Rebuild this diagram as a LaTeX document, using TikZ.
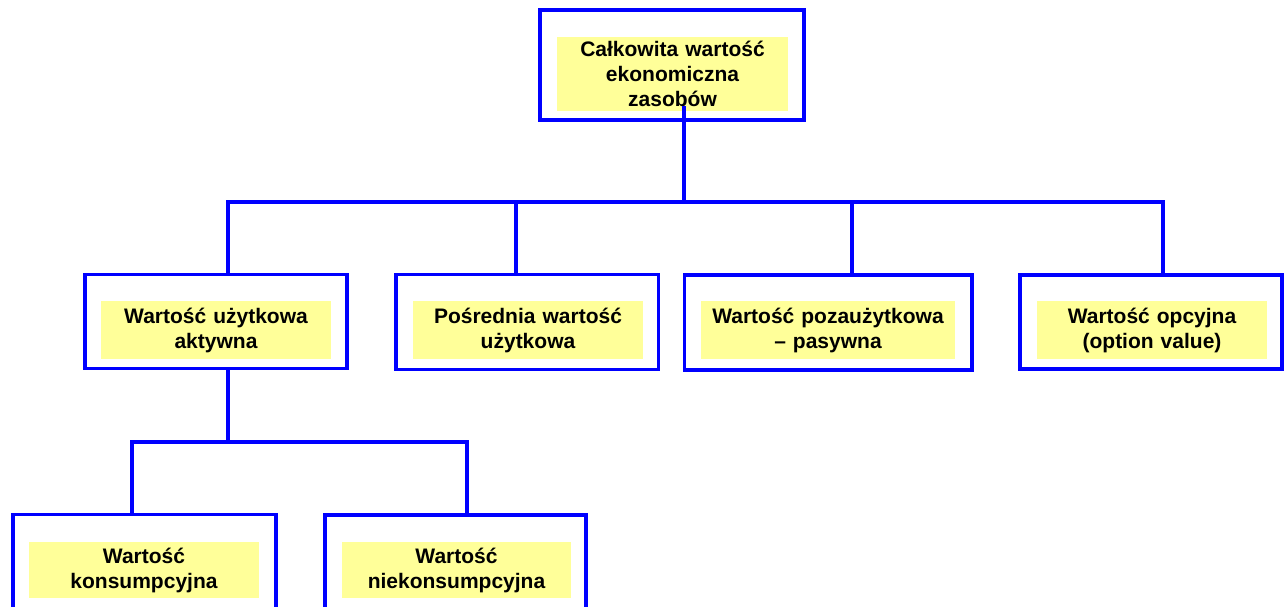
\documentclass[tikz,border=0pt]{standalone}
\usepackage{fontspec}
\setmainfont{Liberation Sans}
\definecolor{boxblue}{RGB}{0,0,255}
\definecolor{labyellow}{RGB}{255,255,153}

\begin{document}
\begin{tikzpicture}[x=1pt,y=-1pt,
    valbox/.style={draw=boxblue,line width=3.5pt,inner sep=0pt},
    vallab/.style={fill=labyellow,inner sep=0pt,align=center,
      font=\fontsize{21}{25}\selectfont\bfseries},
    conn/.style={draw=boxblue,line width=3.5pt}]
  \useasboundingbox (0,0) rectangle (1286,606);
  \clip (0,0) rectangle (1286,606);
  % yellow labels
  \foreach \nm/\cx/\cy/\w/\h/\txt in {
      tev-t/672.5/74/231/74/{Całkowita wartość\\ekonomiczna\\zasobów},
      use-t/216/330/230/58/{Wartość użytkowa\\aktywna},
      ind-t/528/330/230/58/{Pośrednia wartość\\użytkowa},
      nonuse-t/828/330/254/58/{Wartość pozaużytkowa\\– pasywna},
      opt-t/1152/330/230/58/{Wartość opcyjna\\(option value)},
      cons-t/144/570/230/56/{Wartość\\konsumpcyjna},
      ncons-t/456.5/570/229/56/{Wartość\\niekonsumpcyjna}} {
    \node[vallab,text width=\w pt,minimum height=\h pt] (\nm) at (\cx,\cy) {\txt};
  }
  % frames
  \foreach \nm/\cx/\cy/\w/\h in {tev/672/65/264/110, use/216/321.5/262/94,
      ind/527/322/262.5/95, nonuse/828/322.5/287.5/95, opt/1151/322/262/94,
      cons/144.5/561.5/263/94, ncons/455.5/562/261/94} {
    \node[valbox,minimum width=\w pt,minimum height=\h pt] (\nm) at (\cx,\cy) {};
  }
  % junctions
  \coordinate (j-stem) at (684,106);
  \coordinate (j-top) at (684,202);
  \coordinate (j-use) at (228,202);
  \coordinate (j-ind) at (516,202);
  \coordinate (j-non) at (852,202);
  \coordinate (j-opt) at (1163,202);
  \coordinate (j-low) at (228,442);
  \coordinate (j-cons) at (132,442);
  \coordinate (j-ncons) at (467,442);
  % connectors
  \draw[conn] (j-stem) -- (j-top);
  \draw[conn] (use.north -| j-use) -- (j-use) -- (j-opt) -- (opt.north -| j-opt);
  \draw[conn] (j-ind) -- (ind.north -| j-ind);
  \draw[conn] (j-non) -- (nonuse.north -| j-non);
  \draw[conn] (use.south -| j-low) -- (j-low);
  \draw[conn] (cons.north -| j-cons) -- (j-cons) -- (j-ncons) -- (ncons.north -| j-ncons);
\end{tikzpicture}
\end{document}
